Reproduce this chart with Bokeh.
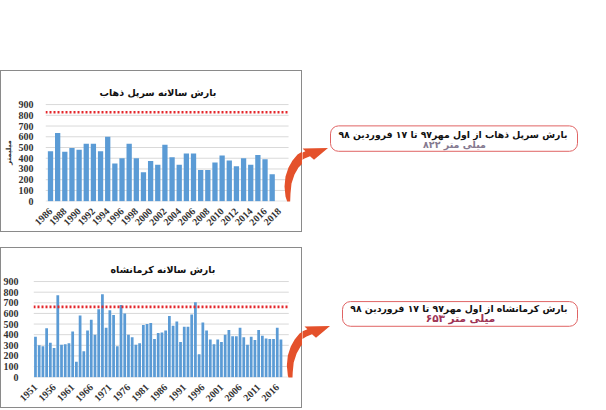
import math
from bokeh.plotting import figure
from bokeh.layouts import column, row
from bokeh.models import Range1d, FixedTicker, BoxAnnotation, Spacer, BasicTickFormatter
from bokeh.core.properties import value
from bokeh.embed import file_html
from bokeh.resources import INLINE

# ---------------- data ----------------
top_title = "بارش سالانه سرپل ذهاب"
top_years = list(range(1986, 2018))
top_rain = [465, 635, 460, 495, 480, 535, 535, 465, 600, 350,
            400, 535, 400, 270, 375, 340, 525, 410, 340, 445,
            445, 290, 290, 360, 425, 380, 325, 400, 340, 430,
            390, 250]
top_ticks = list(range(1986, 2019, 2))
top_ref = 828

bot_title = "بارش سالانه کرمانشاه"
bot_years = list(range(1951, 2018))
bot_rain = [380, 300, 290, 460, 325, 275, 770, 305, 310, 320,
            430, 145, 580, 245, 440, 540, 400, 640, 780, 465,
            630, 585, 290, 680, 600, 400, 375, 305, 320, 490,
            500, 510, 360, 415, 420, 440, 575, 485, 525, 330,
            475, 475, 590, 705, 215, 515, 440, 355, 310, 355,
            330, 400, 445, 385, 385, 465, 375, 305, 380, 350,
            445, 390, 365, 360, 360, 465, 355]
bot_ticks = list(range(1951, 2017, 5))
bot_ref = 662

y_ticks = list(range(0, 901, 100))
y_label = "میلیمتر"

callout_top = ["بارش سرپل ذهاب از اول مهر۹۷  تا ۱۷ فروردین ۹۸", "۸۲۲ میلی متر"]
callout_bot = ["بارش کرمانشاه از اول مهر۹۷  تا ۱۷ فروردین ۹۸", "۶۵۳ میلی متر"]

# ---------------- styles ----------------
BAR = "#5b9bd5"
GRID = "#d9d9d9"
REF = "#e3262b"
ARROW = "#e4512b"
BOX = "#e06464"
FRAME = "#8a8a8a"
TICK_FONT = "Liberation Serif"
AR_FONT = "DejaVu Sans"

# arrow outline in page pixels (top arrow)
arrow_x = [288, 285, 284, 285, 288, 292, 297, 304.9, 302, 327.5, 313.5, 309.5, 304, 298, 294, 291, 290, 289.5]
arrow_y = [205, 196, 186, 176, 167, 160, 154, 149.1, 144.5, 143.5, 163, 157.2, 161, 167, 174, 183, 193, 205]


def chart(title, years, rain, ticks, ref, height, page_top, fl, ft, fb, xr, grid_end,
          axis_label, label_standoff, title_offset, arrow_dx, arrow_dy):
    p = figure(width=302, height=height, x_range=Range1d(*xr), y_range=Range1d(-3, 910),
               output_backend="svg", toolbar_location=None,
               min_border_left=fl, min_border_right=0, min_border_top=ft, min_border_bottom=fb,
               background_fill_color=None, border_fill_color=None, outline_line_color=None,
               styles={"box-shadow": "inset 0 0 0 1px " + FRAME})
    p.grid.visible = False
    # horizontal grid lines
    p.segment(x0=[xr[0]] * len(y_ticks), x1=[grid_end] * len(y_ticks), y0=y_ticks, y1=y_ticks,
              line_color=GRID, line_width=1)
    p.vbar(x=years, top=rain, bottom=0, width=0.74, fill_color=BAR, line_color=None)
    p.line(x=[xr[0], grid_end], y=[ref, ref], line_color=REF, line_width=2.6, line_dash="2 2")

    p.title.text = title
    p.title.text_font = AR_FONT
    p.title.text_font_style = "bold"
    p.title.text_font_size = "9.5px"
    p.title.align = "left"
    p.title.offset = title_offset
    p.title.text_color = "#111111"
    p.title.standoff = 12

    for ax in (p.xaxis, p.yaxis):
        ax.axis_line_color = None
        ax.major_tick_line_color = None
        ax.minor_tick_line_color = None
        ax.major_label_text_font = TICK_FONT
        ax.major_label_text_font_style = "bold"
        ax.major_label_text_font_size = "10px"
        ax.major_label_text_color = "#333333"
    p.xaxis.ticker = FixedTicker(ticks=ticks)
    p.xaxis.formatter = BasicTickFormatter(use_scientific=False)
    p.xaxis.major_label_orientation = math.pi / 4
    p.xaxis.major_label_standoff = 2
    p.yaxis.ticker = FixedTicker(ticks=y_ticks)
    p.yaxis.major_label_standoff = label_standoff
    if axis_label:
        p.yaxis.axis_label = axis_label
        p.yaxis.axis_label_text_font = AR_FONT
        p.yaxis.axis_label_text_font_style = "bold"
        p.yaxis.axis_label_text_font_size = "7px"
        p.yaxis.axis_label_text_color = "#333333"
        p.yaxis.axis_label_standoff = 3

    # page-pixel ranges for the part of the arrow that lies inside this box
    p.extra_x_ranges = {"px": Range1d(fl, 302)}
    p.extra_y_ranges = {"py": Range1d(page_top + height - fb, page_top + ft)}
    p.patch([x + arrow_dx for x in arrow_x], [y + arrow_dy for y in arrow_y],
            x_range_name="px", y_range_name="py", fill_color=ARROW, line_color=None)
    return p


def side(height, page_top, box, lines, colors, sizes, text_y, text_x, arrow_dx, arrow_dy):
    r = figure(width=304, height=height, x_range=Range1d(302, 606),
               y_range=Range1d(page_top + height, page_top),
               output_backend="svg", toolbar_location=None, min_border=0,
               x_axis_location=None, y_axis_location=None,
               background_fill_color=None, border_fill_color=None, outline_line_color=None)
    r.grid.visible = False
    r.add_layout(BoxAnnotation(left=box[0], right=box[1], top=box[2], bottom=box[3],
                               fill_color="white", fill_alpha=1, line_color=BOX,
                               line_width=1, line_alpha=1, border_radius=8, level="underlay"))
    r.patch([x + arrow_dx for x in arrow_x], [y + arrow_dy for y in arrow_y],
            fill_color=ARROW, line_color=None)
    for t, c, s, ty in zip(lines, colors, sizes, text_y):
        r.text(x=[text_x], y=[ty], text=[t], text_color=c, text_font=value(AR_FONT),
               text_font_style="bold", text_font_size=s, text_align="center",
               text_baseline="middle")
    return r


c1 = chart(top_title, top_years, top_rain, top_ticks, top_ref, 162, 70, 45, 33, 31,
           (1985.30, 2021.24), 2019.29, y_label, 6, 54, 0, 0)
r1 = side(162, 70, (330, 577, 107, 149), callout_top, ["#111111", "#857a90"],
          ["9.3px", "9.5px"], [122, 137.5], 454, 0, 0)
c2 = chart(bot_title, bot_years, bot_rain, bot_ticks, bot_ref, 161, 247, 27, 33, 31,
           (1950.47, 2022.79), 2019.1, None, 9, 77, 2, 179)
r2 = side(161, 247, (342, 577, 282, 323), callout_bot, ["#111111", "#9e3355"],
          ["9.3px", "10.5px"], [293, 310], 460, 2, 179)

layout = column(Spacer(width=606, height=70), row(c1, r1), Spacer(width=606, height=15), row(c2, r2))

open("out.html", "w").write(file_html(layout, INLINE))
